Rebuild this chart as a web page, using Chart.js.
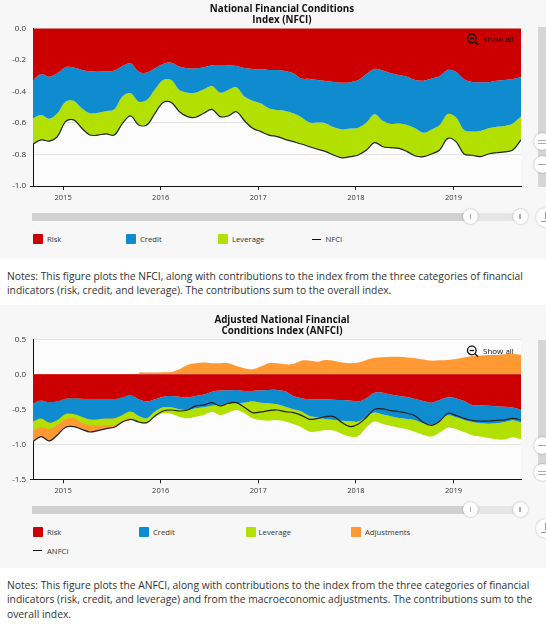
<!DOCTYPE html>
<html><head><meta charset="utf-8">
<script src="https://cdn.jsdelivr.net/npm/chart.js@4.4.1/dist/chart.umd.min.js"></script>
<style>
html,body{margin:0;padding:0;background:#fff;}
body{width:546px;height:625px;position:relative;overflow:hidden;font-family:"Open Sans",sans-serif;color:#333;}
.panel{position:absolute;left:0;width:546px;background:#f7f7f7;}
.title{position:absolute;left:182px;width:200px;text-align:center;font-weight:bold;font-size:9.8px;line-height:11.4px;color:#111;white-space:nowrap;}
.leg{position:absolute;font-size:7.7px;line-height:10px;white-space:nowrap;color:#333;}
.box{position:absolute;width:10px;height:10px;border-radius:1px;}
.lsym{position:absolute;height:1px;background:#111;}
.note{position:absolute;left:7px;font-size:10.3px;line-height:14.3px;white-space:nowrap;color:#333;}
.nav{position:absolute;height:8px;}
.handle{position:absolute;width:15px;height:15px;border-radius:50%;background:#fff;box-shadow:0 0 2px rgba(0,0,0,0.35);}
.handle::after{content:"";position:absolute;left:6.8px;top:5px;width:1.4px;height:5px;background:#aaa;}
.vbar{position:absolute;left:538px;width:10px;background:#d6d6d6;}
.zbtn{position:absolute;width:17px;height:17px;border-radius:50%;background:#fff;box-shadow:0 0 2px rgba(0,0,0,0.35);}
.zbtn i{position:absolute;left:4px;width:8px;height:1.3px;background:#aaa;}
.dl{position:absolute;width:19px;height:19px;border-radius:50%;background:#fff;box-shadow:0 0 2px rgba(0,0,0,0.3);}
.dl i{position:absolute;background:#999;}
.showall{position:absolute;font-size:8px;line-height:10px;color:#111;white-space:nowrap;}
canvas{position:absolute;left:0;}
</style>
</head><body>

<div class="panel" style="top:0;height:259px;"></div>
<div class="panel" style="top:305px;height:263px;"></div>

<canvas id="c1" width="546" height="210" style="top:0;width:546px;height:210px;"></canvas>
<canvas id="c2" width="546" height="189" style="top:315px;width:546px;height:189px;"></canvas>

<div class="title" style="top:3px;">National Financial Conditions<br>Index (NFCI)</div>
<div class="title" style="top:314px;">Adjusted National Financial<br>Conditions Index (ANFCI)</div>

<!-- show all buttons -->
<svg style="position:absolute;left:466px;top:33px;" width="14" height="14"><circle cx="5.8" cy="5.5" r="4.3" fill="none" stroke="#111" stroke-width="1.3"/><line x1="3.6" y1="5.5" x2="8" y2="5.5" stroke="#111" stroke-width="1.3"/><line x1="9" y1="8.8" x2="12" y2="11.8" stroke="#111" stroke-width="1.5"/></svg>
<div class="showall" style="left:483px;top:34px;">Show all</div>
<svg style="position:absolute;left:466px;top:344.5px;" width="14" height="14"><circle cx="5.8" cy="5.5" r="4.3" fill="none" stroke="#111" stroke-width="1.3"/><line x1="3.6" y1="5.5" x2="8" y2="5.5" stroke="#111" stroke-width="1.3"/><line x1="9" y1="8.8" x2="12" y2="11.8" stroke="#111" stroke-width="1.5"/></svg>
<div class="showall" style="left:483px;top:345.5px;">Show all</div>

<!-- vertical scrollbars -->
<div class="vbar" style="top:27px;height:160px;"></div>
<div class="zbtn" style="left:533.5px;top:133px;"><i style="top:6.5px"></i><i style="top:9.5px"></i></div>
<div class="zbtn" style="left:533.5px;top:155.5px;"><i style="top:8px"></i></div>
<div class="vbar" style="top:340px;height:140px;"></div>
<div class="zbtn" style="left:533.5px;top:436.5px;"><i style="top:8px"></i></div>
<div class="zbtn" style="left:533.5px;top:464px;"><i style="top:6.5px"></i><i style="top:9.5px"></i></div>

<!-- navigators -->
<div class="nav" style="left:32px;top:213px;width:438px;background:#d1d1d1;"></div>
<div class="nav" style="left:470px;top:213px;width:50px;background:#e6e6e6;"></div>
<div class="handle" style="left:463px;top:208.5px;"></div>
<div class="handle" style="left:512.5px;top:208.5px;"></div>
<div class="dl" style="left:536px;top:207.5px;"><i style="left:8.8px;top:4px;width:1.4px;height:7px;"></i><i style="left:5px;top:13px;width:9px;height:1.3px;"></i></div>

<div class="nav" style="left:32px;top:505.5px;width:438px;background:#d1d1d1;"></div>
<div class="nav" style="left:470px;top:505.5px;width:50px;background:#e6e6e6;"></div>
<div class="handle" style="left:463px;top:501.8px;"></div>
<div class="handle" style="left:512.5px;top:501.8px;"></div>
<div class="dl" style="left:536px;top:518.5px;"><i style="left:8.8px;top:4px;width:1.4px;height:7px;"></i><i style="left:5px;top:13px;width:9px;height:1.3px;"></i></div>

<!-- legends -->
<div class="box" style="left:33px;top:234.3px;background:#cc0000;"></div><div class="leg" style="left:47px;top:234px;">Risk</div>
<div class="box" style="left:126px;top:234.3px;background:#0f8bd0;"></div><div class="leg" style="left:140px;top:234px;">Credit</div>
<div class="box" style="left:218.3px;top:234.3px;background:#b2e000;"></div><div class="leg" style="left:232px;top:234px;">Leverage</div>
<div class="lsym" style="left:312px;top:239px;width:8.5px;"></div><div class="leg" style="left:325.5px;top:234px;">NFCI</div>

<div class="box" style="left:33px;top:527.3px;background:#cc0000;"></div><div class="leg" style="left:47px;top:527px;">Risk</div>
<div class="box" style="left:139.3px;top:527.3px;background:#0f8bd0;"></div><div class="leg" style="left:153px;top:527px;">Credit</div>
<div class="box" style="left:245.5px;top:527.3px;background:#b2e000;"></div><div class="leg" style="left:258.6px;top:527px;">Leverage</div>
<div class="box" style="left:351px;top:527.3px;background:#ff9933;"></div><div class="leg" style="left:365px;top:527px;">Adjustments</div>
<div class="lsym" style="left:33px;top:550px;width:9px;"></div><div class="leg" style="left:47px;top:546px;">ANFCI</div>

<!-- notes -->
<div class="note" style="top:268.8px;">Notes: This figure plots the NFCI, along with contributions to the index from the three categories of financial<br>indicators (risk, credit, and leverage). The contributions sum to the overall index.</div>
<div class="note" style="top:578.2px;">Notes: This figure plots the ANFCI, along with contributions to the index from the three categories of financial<br>indicators (risk, credit, and leverage) and from the macroeconomic adjustments. The contributions sum to the<br>overall index.</div>

<script>
// ---- categories (monthly observations) ----
const months = [
 '2014-09','2014-10','2014-11','2014-12',
 '2015-01','2015-02','2015-03','2015-04','2015-05','2015-06','2015-07','2015-08','2015-09','2015-10','2015-11','2015-12',
 '2016-01','2016-02','2016-03','2016-04','2016-05','2016-06','2016-07','2016-08','2016-09','2016-10','2016-11','2016-12',
 '2017-01','2017-02','2017-03','2017-04','2017-05','2017-06','2017-07','2017-08','2017-09','2017-10','2017-11','2017-12',
 '2018-01','2018-02','2018-03','2018-04','2018-05','2018-06','2018-07','2018-08','2018-09','2018-10','2018-11','2018-12',
 '2019-01','2019-02','2019-03','2019-04','2019-05','2019-06','2019-07','2019-08','2019-09'
];
const yearTicks = [2015, 2016, 2017, 2018, 2019];
const nfciTicks = [0, -0.2, -0.4, -0.6, -0.8, -1.0];
const anfciTicks = [0.5, 0, -0.5, -1.0, -1.5];

// ---- NFCI contributions ----
const nfciRisk = [
 -0.328,-0.290,-0.307,-0.285,
 -0.247,-0.249,-0.264,-0.273,-0.275,-0.273,-0.268,-0.239,-0.222,-0.275,-0.281,-0.254,
 -0.226,-0.218,-0.243,-0.254,-0.254,-0.247,-0.235,-0.233,-0.235,-0.239,-0.252,-0.258,
 -0.260,-0.264,-0.264,-0.270,-0.285,-0.319,-0.321,-0.328,-0.334,-0.340,-0.345,-0.342,
 -0.328,-0.290,-0.258,-0.268,-0.285,-0.296,-0.307,-0.328,-0.332,-0.319,-0.302,-0.264,
 -0.275,-0.323,-0.340,-0.342,-0.342,-0.332,-0.328,-0.321,-0.311];
const nfciCredit = [
 -0.243,-0.260,-0.266,-0.254,
 -0.218,-0.210,-0.243,-0.266,-0.260,-0.253,-0.246,-0.194,-0.190,-0.190,-0.174,-0.133,
 -0.102,-0.110,-0.148,-0.154,-0.154,-0.140,-0.131,-0.175,-0.156,-0.135,-0.181,-0.201,
 -0.216,-0.243,-0.254,-0.254,-0.254,-0.245,-0.277,-0.270,-0.269,-0.288,-0.296,-0.294,
 -0.302,-0.308,-0.287,-0.318,-0.322,-0.307,-0.306,-0.306,-0.330,-0.322,-0.311,-0.279,
 -0.289,-0.322,-0.315,-0.309,-0.292,-0.292,-0.291,-0.282,-0.249];
const nfciLeverage = [
 -0.163,-0.158,-0.142,-0.148,
 -0.127,-0.122,-0.127,-0.138,-0.142,-0.144,-0.163,-0.170,-0.144,-0.148,-0.158,-0.152,
 -0.143,-0.143,-0.138,-0.152,-0.156,-0.152,-0.148,-0.152,-0.165,-0.155,-0.153,-0.175,
 -0.179,-0.170,-0.169,-0.180,-0.180,-0.170,-0.153,-0.169,-0.179,-0.177,-0.181,-0.178,
 -0.173,-0.174,-0.180,-0.165,-0.150,-0.158,-0.169,-0.176,-0.152,-0.156,-0.159,-0.155,
 -0.155,-0.152,-0.150,-0.163,-0.163,-0.165,-0.165,-0.169,-0.148];
const nfciIndex = [
 -0.734,-0.708,-0.715,-0.687,
 -0.592,-0.581,-0.634,-0.677,-0.677,-0.670,-0.677,-0.603,-0.556,-0.613,-0.613,-0.539,
 -0.471,-0.471,-0.529,-0.560,-0.564,-0.539,-0.514,-0.560,-0.556,-0.529,-0.586,-0.634,
 -0.655,-0.677,-0.687,-0.704,-0.719,-0.734,-0.751,-0.767,-0.782,-0.805,-0.822,-0.814,
 -0.803,-0.772,-0.725,-0.751,-0.757,-0.761,-0.782,-0.810,-0.814,-0.797,-0.772,-0.698,
 -0.719,-0.797,-0.805,-0.814,-0.797,-0.789,-0.784,-0.772,-0.708];

// ---- ANFCI contributions ----
const anfciRisk = [
 -0.414,-0.376,-0.400,-0.386,
 -0.348,-0.343,-0.348,-0.357,-0.357,-0.357,-0.357,-0.329,-0.295,-0.357,-0.390,-0.357,
 -0.319,-0.310,-0.319,-0.329,-0.310,-0.290,-0.248,-0.233,-0.229,-0.224,-0.238,-0.238,
 -0.229,-0.224,-0.224,-0.243,-0.310,-0.343,-0.357,-0.357,-0.357,-0.362,-0.367,-0.376,
 -0.390,-0.343,-0.265,-0.262,-0.290,-0.310,-0.324,-0.352,-0.381,-0.405,-0.367,-0.329,
 -0.343,-0.381,-0.438,-0.443,-0.448,-0.457,-0.462,-0.476,-0.510];
const anfciCredit = [
 -0.262,-0.257,-0.290,-0.267,
 -0.219,-0.224,-0.257,-0.286,-0.286,-0.276,-0.271,-0.252,-0.238,-0.238,-0.238,-0.176,
 -0.152,-0.162,-0.181,-0.181,-0.176,-0.181,-0.200,-0.205,-0.195,-0.190,-0.167,-0.152,
 -0.176,-0.190,-0.205,-0.219,-0.190,-0.190,-0.238,-0.257,-0.286,-0.290,-0.295,-0.295,
 -0.286,-0.262,-0.282,-0.314,-0.310,-0.314,-0.314,-0.305,-0.319,-0.314,-0.304,-0.257,
 -0.271,-0.271,-0.243,-0.257,-0.257,-0.243,-0.219,-0.181,-0.180];
const anfciLeverage = [
 -0.129,-0.124,-0.090,-0.071,
 -0.076,-0.062,-0.086,-0.081,-0.090,-0.095,-0.095,-0.081,-0.095,-0.095,-0.071,-0.081,
 -0.086,-0.095,-0.105,-0.119,-0.119,-0.110,-0.086,-0.143,-0.124,-0.095,-0.152,-0.238,
 -0.248,-0.248,-0.224,-0.214,-0.210,-0.224,-0.224,-0.200,-0.152,-0.152,-0.190,-0.219,
 -0.205,-0.152,-0.129,-0.134,-0.138,-0.138,-0.148,-0.167,-0.167,-0.171,-0.162,-0.176,
 -0.167,-0.172,-0.190,-0.190,-0.205,-0.229,-0.252,-0.243,-0.239];
const anfciAdjust = [
 -0.157,-0.133,-0.171,-0.143,
 -0.114,-0.119,-0.095,-0.100,-0.071,-0.048,-0.033,-0.019,-0.014,0.010,0.024,0.024,
 0.029,0.033,0.071,0.133,0.157,0.167,0.157,0.157,0.157,0.119,0.086,0.071,
 0.110,0.157,0.157,0.143,0.148,0.195,0.195,0.181,0.205,0.195,0.167,0.157,
 0.167,0.205,0.235,0.245,0.250,0.250,0.240,0.230,0.210,0.195,0.200,0.205,
 0.220,0.240,0.260,0.270,0.276,0.276,0.285,0.290,0.280];
const anfciIndex = [
 -0.962,-0.890,-0.952,-0.867,
 -0.757,-0.748,-0.786,-0.824,-0.805,-0.776,-0.757,-0.681,-0.643,-0.681,-0.690,-0.595,
 -0.524,-0.510,-0.524,-0.510,-0.452,-0.438,-0.405,-0.452,-0.414,-0.405,-0.471,-0.548,
 -0.538,-0.519,-0.510,-0.533,-0.548,-0.586,-0.643,-0.629,-0.605,-0.605,-0.690,-0.748,
 -0.710,-0.614,-0.500,-0.495,-0.519,-0.533,-0.557,-0.595,-0.690,-0.729,-0.671,-0.557,
 -0.586,-0.629,-0.657,-0.667,-0.667,-0.657,-0.652,-0.629,-0.652];

// ---- colours ----
const COL = {risk:'#cc0000', credit:'#0f8bd0', leverage:'#b2e000', adjust:'#ff9933', line:'#222'};

// month label -> decimal year (observation early in month)
const xOf = m => { const [y, mo] = m.split('-').map(Number); return y + (mo - 1) / 12 + 0.025; };
const xs = months.map(xOf);
const pts = arr => arr.map((v, i) => ({x: xs[i], y: v}));

const plotBg = {
  id: 'plotBg',
  beforeDraw(chart) {
    const {ctx, chartArea: a} = chart;
    ctx.save(); ctx.fillStyle = '#fcfcfc';
    ctx.fillRect(a.left, a.top, a.right - a.left, a.bottom - a.top);
    ctx.restore();
  }
};

function area(label, arr, color, fill, order) {
  return {label, data: pts(arr), backgroundColor: color, borderColor: 'rgba(0,0,0,0)', borderWidth: 0,
    fill, pointRadius: 0, tension: 0.35, order: order || 0};
}
function idxLine(label, arr) {
  return {label, data: pts(arr), borderColor: COL.line, borderWidth: 1.2, backgroundColor: COL.line,
    fill: false, pointRadius: 0, tension: 0.35, stack: 'index', order: -1};
}

function makeChart(id, datasets, yMin, yMax, step, yTickVals, padTop, padBottom) {
  return new Chart(document.getElementById(id), {
    type: 'line',
    data: {datasets},
    plugins: [plotBg],
    options: {
      responsive: false, animation: false, events: [],
      layout: {padding: {left: 0, right: 25, top: padTop, bottom: padBottom}},
      plugins: {legend: {display: false}, tooltip: {enabled: false}, title: {display: false}},
      scales: {
        x: {
          type: 'linear', min: xs[0], max: xs[xs.length - 1],
          afterBuildTicks: s => { s.ticks = yearTicks.map(v => ({value: v})); },
          afterFit: s => { s.height = 24; },
          ticks: {autoSkip: false, maxRotation: 0, padding: 3, color: '#333',
            font: {family: 'Open Sans', size: 7.5}, callback: v => String(v)},
          grid: {drawOnChartArea: false, drawTicks: true, tickLength: 4, tickColor: '#222'},
          border: {display: true, color: '#111', width: 1}
        },
        y: {
          stacked: true, min: yMin, max: yMax,
          afterBuildTicks: s => { s.ticks = yTickVals.map(v => ({value: v})); },
          afterFit: s => { s.width = 33; },
          ticks: {padding: 4, color: '#333', font: {family: 'Open Sans', size: 8},
            callback: v => Number(v).toFixed(1)},
          grid: {color: '#e3e3e3', drawTicks: true, tickLength: 3,
            tickColor: c => (c.tick && c.tick.value === yMin) ? '#222' : 'rgba(0,0,0,0)'},
          border: {display: true, color: '#111', width: 1}
        }
      }
    }
  });
}

makeChart('c1', [
  area('Risk', nfciRisk, COL.risk, 'origin'),
  area('Credit', nfciCredit, COL.credit, '-1'),
  area('Leverage', nfciLeverage, COL.leverage, '-1'),
  idxLine('NFCI', nfciIndex)
], -1, 0, 0.2, nfciTicks, 28.3, 0);

makeChart('c2', [
  area('Risk', anfciRisk, COL.risk, 'origin'),
  area('Credit', anfciCredit, COL.credit, '-1'),
  area('Leverage', anfciLeverage, COL.leverage, '-1'),
  area('Adjustments', anfciAdjust, COL.adjust, 'origin', 1),
  idxLine('ANFCI', anfciIndex)
], -1.5, 0.5, 0.5, anfciTicks, 24.3, 0.7);
</script>
</body></html>
